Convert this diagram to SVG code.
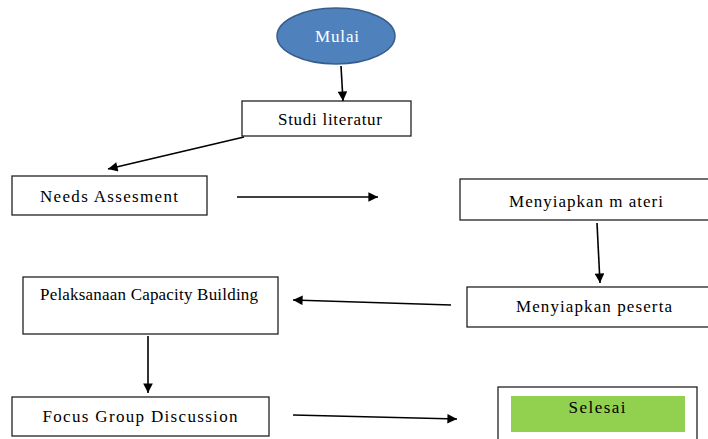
<svg xmlns="http://www.w3.org/2000/svg" width="708" height="439" viewBox="0 0 708 439">
<style>
.box{fill:#fff;stroke:#222;stroke-width:1.3}
.c{stroke:#000;stroke-width:1.6;fill:none;marker-end:url(#ah)}
</style>
<defs>
<marker id="ah" viewBox="0 0 10 10" refX="10" refY="5" markerWidth="7" markerHeight="6" orient="auto" markerUnits="strokeWidth">
<path d="M0,0 L10,5 L0,10 z" fill="#000"/>
</marker>
</defs>
<rect width="708" height="439" fill="#fff"/>
<g font-family="Liberation Serif, Times New Roman, serif" font-size="17" text-anchor="middle" fill="#000">
<g id="mulai">
<ellipse cx="336" cy="36" rx="59" ry="28" fill="#4F81BD" stroke="#385D8A" stroke-width="1.5"/>
<text x="337" y="42" fill="#fff" textLength="44">Mulai</text>
</g>
<g id="studi">
<rect class="box" x="242" y="101" width="169" height="35"/>
<text x="330" y="125" textLength="104">Studi literatur</text>
</g>
<g id="needs">
<rect class="box" x="12" y="176" width="195" height="39"/>
<text x="109" y="202" textLength="138">Needs Assesment</text>
</g>
<g id="materi">
<rect class="box" x="460" y="179" width="252" height="41"/>
<text x="586" y="207" textLength="154">Menyiapkan m ateri</text>
</g>
<g id="peserta">
<rect class="box" x="467" y="287" width="245" height="40"/>
<text x="594" y="312" textLength="156">Menyiapkan peserta</text>
</g>
<g id="pelaksanaan">
<rect class="box" x="23" y="277" width="255" height="57"/>
<text x="149" y="300" textLength="218">Pelaksanaan Capacity Building</text>
</g>
<g id="focus">
<rect class="box" x="12" y="397" width="257" height="39"/>
<text x="140" y="422" textLength="195">Focus Group Discussion</text>
</g>
<g id="selesai">
<rect class="box" x="498" y="387" width="199" height="60"/>
<rect x="511" y="396" width="174" height="36" fill="#92D050"/>
<text x="597" y="413" textLength="57">Selesai</text>
</g>
</g>
<g id="connectors">
<line class="c" x1="341" y1="66" x2="343" y2="101"/>
<line class="c" x1="244" y1="137" x2="108" y2="169"/>
<line class="c" x1="237" y1="197" x2="378" y2="197"/>
<line class="c" x1="597" y1="223" x2="600" y2="283"/>
<line class="c" x1="451" y1="305" x2="293" y2="300"/>
<line class="c" x1="148" y1="336" x2="148" y2="393"/>
<line class="c" x1="293" y1="415" x2="457" y2="419"/>
</g>
</svg>
